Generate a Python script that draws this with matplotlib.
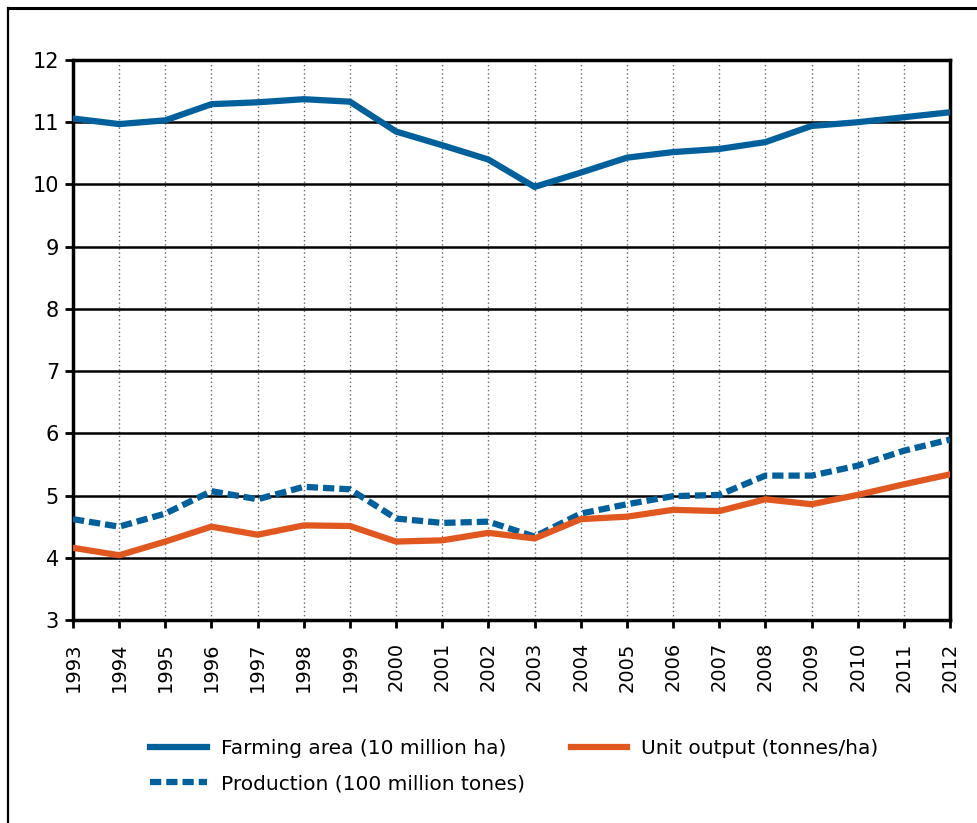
import numpy as np
import matplotlib.pyplot as plt
from matplotlib.lines import Line2D

years = list(range(1993, 2013))
farming_area = [11.06, 10.97, 11.03, 11.29, 11.32, 11.37, 11.33, 10.85, 10.63, 10.40,
                9.96, 10.19, 10.43, 10.52, 10.57, 10.68, 10.94, 11.00, 11.08, 11.16]
production = [4.62, 4.50, 4.71, 5.07, 4.94, 5.14, 5.10, 4.63, 4.56, 4.58,
              4.34, 4.71, 4.86, 4.99, 5.01, 5.32, 5.32, 5.48, 5.72, 5.90]
unit_output = [4.16, 4.04, 4.26, 4.50, 4.37, 4.52, 4.51, 4.26, 4.28, 4.40,
               4.31, 4.62, 4.66, 4.77, 4.75, 4.94, 4.86, 5.01, 5.18, 5.34]

blue = '#00609c'
orange = '#e0581f'

fig = plt.figure(figsize=(9.78, 8.23), dpi=100)
ax = fig.add_axes([0.0746, 0.2467, 0.8968, 0.6804])

ax.plot(years, farming_area, color=blue, lw=4.5, label='Farming area (10 million ha)', zorder=3)
ax.plot(years, production, color=blue, lw=4.5, dashes=(1.8, 0.8),
        label='Production (100 million tones)', zorder=3)
ax.plot(years, unit_output, color=orange, lw=4.5, label='Unit output (tonnes/ha)', zorder=3)

ax.set_xlim(1993, 2012)
ax.set_ylim(3, 12)
ax.set_xticks(years)
ax.set_xticklabels([str(y) for y in years], rotation=90)
ax.set_yticks(range(3, 13))

# grid: dotted verticals, solid black horizontals
for y in years[1:-1]:
    ax.axvline(y, color='#666666', lw=1, ls=(0, (1, 2)), zorder=1)
for v in range(4, 12):
    ax.axhline(v, color='black', lw=1.8, zorder=2)

for s in ax.spines.values():
    s.set_linewidth(2.5)
ax.tick_params(axis='both', direction='out', length=6, width=2, labelsize=14)
ax.tick_params(axis='x', pad=10)
ax.tick_params(axis='y', labelsize=15, pad=4)

fig.legend(loc='upper left', bbox_to_anchor=(0.135, 0.124), ncol=2, frameon=False,
           fontsize=14.5, handlelength=2.8, handletextpad=0.7, columnspacing=2.3,
           labelspacing=0.8)

# outer frame (top and left edges)
fig.add_artist(Line2D([0.008, 1.0], [0.990, 0.990], color='black', lw=2.2,
                      transform=fig.transFigure))
fig.add_artist(Line2D([0.008, 0.008], [0.0, 0.990], color='black', lw=1.6,
                      transform=fig.transFigure))

fig.savefig('out.png', dpi=100)
